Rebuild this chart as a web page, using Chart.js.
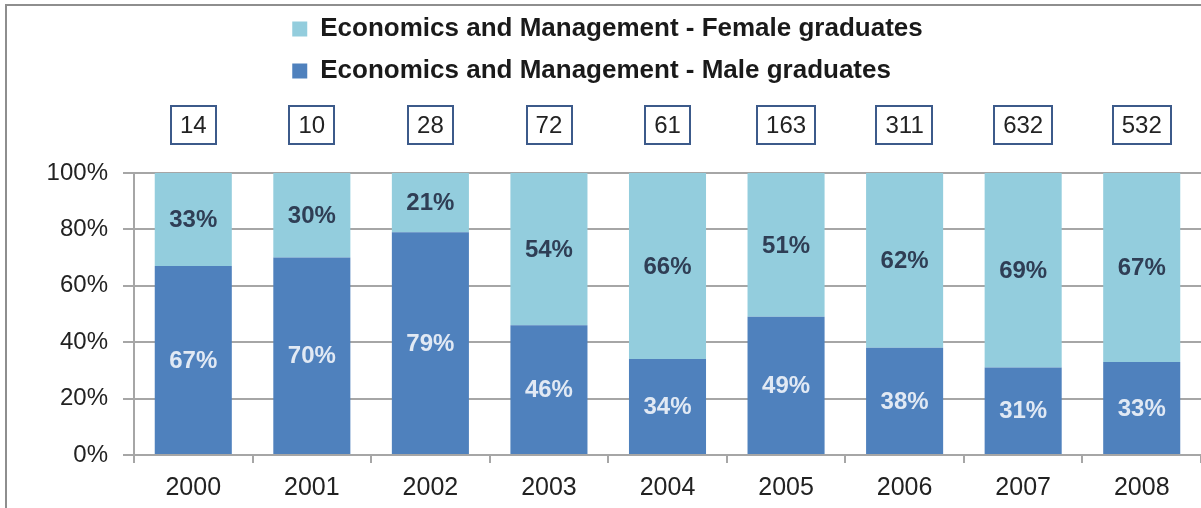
<!DOCTYPE html>
<html>
<head>
<meta charset="utf-8">
<script src="https://cdn.jsdelivr.net/npm/chart.js@4.4.0/dist/chart.umd.min.js"></script>
<style>
  html, body { margin:0; padding:0; background:#fff; overflow:hidden; }
  #frame { position:absolute; left:5px; top:4px; width:1300px; height:700px; border:2px solid #8e8e8e; box-sizing:border-box; }
  #wrap { position:absolute; left:0; top:0; width:1201px; height:508px; }
</style>
</head>
<body>
<div id="frame"></div>
<div id="wrap"><canvas id="chart"></canvas></div>
<script>
// Data
const years = ['2000','2001','2002','2003','2004','2005','2006','2007','2008'];
const maleShare   = [67, 70, 79, 46, 34, 49, 38, 31, 33];
const femaleShare = [33, 30, 21, 54, 66, 51, 62, 69, 67];
const totals      = [14, 10, 28, 72, 61, 163, 311, 632, 532];

const FONT = "'Liberation Sans', Arial, sans-serif";
const gridGray = '#a6a6a6';

// Legend takes the whole band above the plot (legend rows + totals row),
// rows share one left edge like the original
const legendSpace = {
  id:'legendSpace',
  beforeInit(chart){
    const lg = chart.legend;
    const fit = lg.fit;
    lg.fit = function(){
      fit.call(this);
      this.height = 173;
      const w = Math.max(...this.lineWidths) - 14;
      this.lineWidths = this.lineWidths.map(() => w);
    };
  }
};

// Percent labels in the middle of each segment
const segmentLabels = {
  id:'segmentLabels',
  afterDatasetsDraw(chart){
    const ctx = chart.ctx;
    ctx.save();
    ctx.font = 'bold 24px ' + FONT;
    ctx.textAlign = 'center';
    ctx.textBaseline = 'middle';
    chart.data.datasets.forEach((ds, di) => {
      const meta = chart.getDatasetMeta(di);
      ctx.fillStyle = ds.labelColor;
      meta.data.forEach((bar, i) => {
        ctx.fillText(ds.data[i] + '%', bar.x, (bar.y + bar.base) / 2 + 1);
      });
    });
    ctx.restore();
  }
};

// Boxed totals above each bar
const totalBoxes = {
  id:'totalBoxes',
  afterDraw(chart){
    const ctx = chart.ctx;
    const xs = chart.scales.x;
    const cy = chart.chartArea.top - 48;
    ctx.save();
    ctx.font = '24px ' + FONT;
    ctx.textAlign = 'center';
    ctx.textBaseline = 'middle';
    totals.forEach((t, i) => {
      const x = xs.getPixelForValue(i);
      const w = ctx.measureText(String(t)).width + 18;
      ctx.strokeStyle = '#3c5a8a';
      ctx.lineWidth = 2;
      ctx.strokeRect(Math.round(x - w/2), cy - 19, Math.round(w), 38);
      ctx.fillStyle = '#222';
      ctx.fillText(String(t), x, cy + 1);
    });
    ctx.restore();
  }
};

new Chart(document.getElementById('chart'), {
  type:'bar',
  data:{
    labels: years,
    datasets:[
      { label:'Economics and Management - Male graduates', data: maleShare,
        backgroundColor:'#4F81BD', labelColor:'#e1e9f4', barPercentage:0.65, categoryPercentage:1 },
      { label:'Economics and Management - Female graduates', data: femaleShare,
        backgroundColor:'#93CDDD', labelColor:'#2f3e55', barPercentage:0.65, categoryPercentage:1 }
    ]
  },
  options:{
    responsive:true,
    maintainAspectRatio:false,
    animation:false,
    devicePixelRatio:1,
    layout:{ padding:0 },
    plugins:{
      legend:{
        position:'top',
        reverse:true,
        labels:{ font:{ family:FONT, size:26, weight:'bold' }, color:'#1a1a1a',
          boxWidth:15, boxHeight:15, padding:16 }
      },
      tooltip:{ enabled:false }
    },
    scales:{
      x:{
        stacked:true,
        afterFit(s){ s.height = 53; },
        grid:{ display:true, drawOnChartArea:false, offset:true, tickLength:8, color:gridGray, lineWidth:2 },
        border:{ color:gridGray, width:2 },
        ticks:{ font:{ family:FONT, size:25 }, color:'#222', padding:10, maxRotation:0 }
      },
      y:{
        stacked:true,
        min:0, max:100,
        afterFit(s){ s.width = 134; },
        grid:{ color:gridGray, lineWidth:2, tickLength:11 },
        border:{ color:gridGray, width:2 },
        ticks:{ stepSize:20, font:{ family:FONT, size:24 }, color:'#222', padding:15,
          callback:v => v + '%' }
      }
    }
  },
  plugins:[legendSpace, segmentLabels, totalBoxes]
});
</script>
</body>
</html>
